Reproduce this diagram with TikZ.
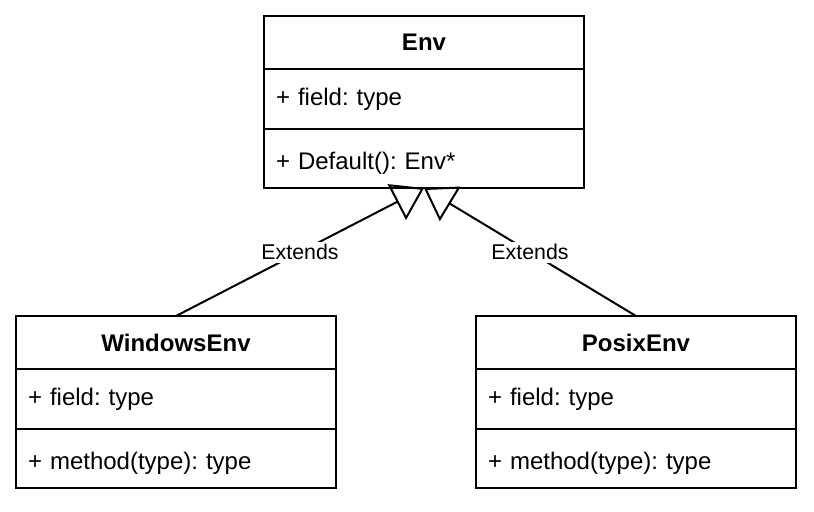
\documentclass[tikz,border=0pt]{standalone}
\usepackage{fontspec}
\setmainfont{Liberation Sans}
\frenchspacing
\usetikzlibrary{arrows.meta, positioning}
\tikzset{
	header/.style={
		rectangle,
		draw=black,
		line width=1.5pt,
		outer sep=0pt,
		minimum width=240pt,
		minimum height=39.75pt,
		text centered,
		font=\bfseries\fontsize{18}{22}\selectfont
	},
	member/.style={
		rectangle,
		draw=black,
		line width=1.5pt,
		outer sep=0pt,
		minimum width=240pt,
		minimum height=45pt,
		inner xsep=9pt,
		text width=222pt,
		align=left,
		font=\fontsize{18}{22}\selectfont
	},
	method/.style={
		member,
		minimum height=44.25pt,
		text height=21pt,
		text depth=4pt
	},
	extends/.style={
		line width=1.5pt,
		-{Triangle[open, length=23pt, width=30pt, line width=1.5pt]}
	},
	lbl/.style={fill=white, inner sep=2pt, font=\fontsize{16}{19}\selectfont}
}

\begin{document}
\begin{tikzpicture}[x=0.75pt, y=-0.75pt]
	\useasboundingbox (0,0) rectangle (814,511);
	% base class
	\node (env) [header] at (424,42.5) {Env};
	\node (envfield) [member, below=0pt of env] {+ field: type};
	\node (envmethod) [method, below=0pt of envfield] {+ Default(): Env*};
	
	% subclasses
	\node (win) [header] at (176,342.5) {WindowsEnv};
	\node (winfield) [member, below=0pt of win] {+ field: type};
	\node (winmethod) [method, below=0pt of winfield] {+ method(type): type};
	
	\node (posix) [header] at (636,342.5) {PosixEnv};
	\node (posixfield) [member, below=0pt of posix] {+ field: type};
	\node (posixmethod) [method, below=0pt of posixfield] {+ method(type): type};
	
	\draw [extends] (win.north) -- node [lbl] {Extends} (envmethod.south);
	\draw [extends] (posix.north) -- node [lbl] {Extends} (envmethod.south);
\end{tikzpicture}
\end{document}
